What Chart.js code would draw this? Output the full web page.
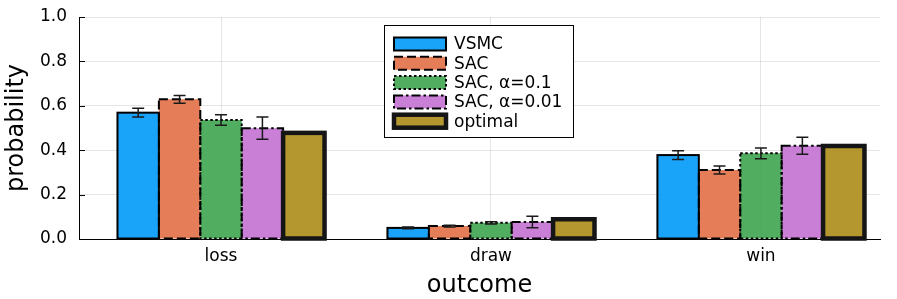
<!DOCTYPE html>
<html>
<head>
<meta charset="utf-8">
<script src="https://cdn.jsdelivr.net/npm/chart.js@4"></script>
<style>
  html, body { margin: 0; padding: 0; background: #fff; }
  #wrap { width: 897px; height: 299px; }
</style>
</head>
<body>
<div id="wrap"><canvas id="chart" width="897" height="299"></canvas></div>
<script>
// data
const categories = ['loss', 'draw', 'win'];
const seriesNames = ['VSMC', 'SAC', 'SAC, α=0.1', 'SAC, α=0.01', 'optimal'];
const vsmc = [0.569, 0.050, 0.378];
const sac = [0.629, 0.058, 0.311];
const sac01 = [0.536, 0.073, 0.386];
const sac001 = [0.499, 0.077, 0.420];
const optimal = [0.478, 0.089, 0.419];
const vsmcErr = [0.020, 0.004, 0.020];
const sacErr = [0.017, 0.004, 0.018];
const sac01Err = [0.024, 0.005, 0.024];
const sac001Err = [0.050, 0.026, 0.038];
const optimalErr = [0, 0, 0];
const yTicks = [0, 0.2, 0.4, 0.6, 0.8, 1.0];

const values = [vsmc, sac, sac01, sac001, optimal];
const errors = [vsmcErr, sacErr, sac01Err, sac001Err, optimalErr];
const fills = ['rgba(0,154,250,0.9)', 'rgba(227,111,71,0.9)', 'rgba(62,164,78,0.9)', 'rgba(195,113,210,0.9)', 'rgba(172,141,24,0.9)'];
// border style per series: [width, dash]
const borders = [[2, []], [2, [9, 4]], [2, [2.5, 2.5]], [2, [9, 3, 2.5, 3]], [4.5, []]];

const FONT = "'DejaVu Sans', sans-serif";

const datasets = values.map((vals, i) => ({
    label: seriesNames[i],
    data: vals.map((v, j) => ({ x: j, y: v })),
    backgroundColor: fills[i],
    borderWidth: 0,
    errors: errors[i]
}));

// bar outlines (with dash styles), error bars, tick marks and legend
const decorPlugin = {
    id: 'decor',
    afterDatasetsDraw(chart) {
        const ctx = chart.ctx;
        const yScale = chart.scales.y;
        ctx.save();
        chart.data.datasets.forEach((ds, i) => {
            const meta = chart.getDatasetMeta(i);
            meta.data.forEach((bar, j) => {
                const p = bar.getProps(['x', 'y', 'base', 'width'], true);
                ctx.lineWidth = borders[i][0];
                ctx.setLineDash(borders[i][1]);
                ctx.strokeStyle = i === 4 ? '#151515' : '#000';
                ctx.strokeRect(p.x - p.width / 2, p.y, p.width, p.base - p.y);
            });
        });
        ctx.setLineDash([]);
        chart.data.datasets.forEach((ds, i) => {
            const meta = chart.getDatasetMeta(i);
            meta.data.forEach((bar, j) => {
                const e = ds.errors[j];
                if (!e) return;
                const v = ds.data[j].y;
                const x = bar.x;
                const yTop = yScale.getPixelForValue(v + e);
                const yBot = yScale.getPixelForValue(v - e);
                ctx.strokeStyle = '#1a1a1a';
                ctx.lineWidth = 1.5;
                ctx.beginPath();
                ctx.moveTo(x, yTop); ctx.lineTo(x, yBot);
                ctx.moveTo(x - 6, yTop); ctx.lineTo(x + 6, yTop);
                ctx.moveTo(x - 6, yBot); ctx.lineTo(x + 6, yBot);
                ctx.stroke();
            });
        });
        ctx.restore();
    },
    afterDraw(chart) {
        const ctx = chart.ctx;
        const area = chart.chartArea;
        const yScale = chart.scales.y;
        ctx.save();
        // inward tick marks on the y axis
        ctx.strokeStyle = '#000';
        ctx.lineWidth = 1;
        ctx.beginPath();
        yTicks.forEach(t => {
            const y = Math.round(yScale.getPixelForValue(t)) + 0.5;
            ctx.moveTo(area.left, y); ctx.lineTo(area.left + 6, y);
        });
        ctx.stroke();

        // legend
        const lx = area.left + 305, ly = area.top + 8, lw = 189, lh = 112;
        ctx.fillStyle = '#fff';
        ctx.fillRect(lx, ly, lw, lh);
        ctx.strokeStyle = '#000';
        ctx.lineWidth = 1;
        ctx.strokeRect(lx + 0.5, ly + 0.5, lw, lh);
        ctx.font = '17px ' + FONT;
        ctx.textBaseline = 'middle';
        seriesNames.forEach((name, i) => {
            const cy = ly + 19 + i * 19.3;
            const sx = lx + 10, sw = 52, sh = 13;
            ctx.fillStyle = fills[i];
            ctx.fillRect(sx, cy - sh / 2, sw, sh);
            ctx.lineWidth = borders[i][0];
            ctx.setLineDash(borders[i][1]);
            ctx.strokeStyle = i === 4 ? '#151515' : '#000';
            ctx.strokeRect(sx, cy - sh / 2, sw, sh);
            ctx.setLineDash([]);
            ctx.fillStyle = '#000';
            ctx.fillText(name, lx + 70, cy + 1);
        });
        ctx.restore();
    }
};

new Chart(document.getElementById('chart'), {
    type: 'bar',
    data: { datasets: datasets },
    options: {
        responsive: false,
        animation: false,
        devicePixelRatio: 1,
        layout: { padding: { top: 17, right: 17, left: 0, bottom: 0 } },
        datasets: {
            bar: { barPercentage: 1, categoryPercentage: 0.767, grouped: true }
        },
        plugins: {
            legend: { display: false },
            tooltip: { enabled: false }
        },
        scales: {
            x: {
                type: 'linear',
                offset: false,
                min: -0.526,
                max: 2.441,
                afterBuildTicks: scale => { scale.ticks = categories.map((c, j) => ({ value: j })); },
                afterFit: scale => { scale.height = 60; scale.paddingLeft = 0; scale.paddingRight = 0; },
                grid: { color: 'rgba(0,0,0,0.1)', drawTicks: false, offset: false },
                border: { color: '#000', width: 1 },
                ticks: {
                    autoSkip: false,
                    maxRotation: 0,
                    padding: 7,
                    color: '#000',
                    font: { family: FONT, size: 17 },
                    callback: v => categories[v]
                },
                title: {
                    display: true,
                    text: 'outcome',
                    color: '#000',
                    font: { family: FONT, size: 24 },
                    padding: { top: 0, bottom: -1 }
                }
            },
            y: {
                min: 0,
                max: 1,
                afterBuildTicks: scale => { scale.ticks = yTicks.map(v => ({ value: v })); },
                afterFit: scale => { scale.width = 79; scale.paddingTop = 0; scale.paddingBottom = 0; },
                grid: { color: 'rgba(0,0,0,0.1)', drawTicks: false },
                border: { color: '#000', width: 1 },
                ticks: {
                    padding: 12,
                    color: '#000',
                    font: { family: FONT, size: 17 },
                    callback: v => v.toFixed(1)
                },
                title: {
                    display: true,
                    text: 'probability',
                    color: '#000',
                    font: { family: FONT, size: 24 },
                    padding: { top: 2, bottom: 0 }
                }
            }
        }
    },
    plugins: [decorPlugin]
});
</script>
</body>
</html>
